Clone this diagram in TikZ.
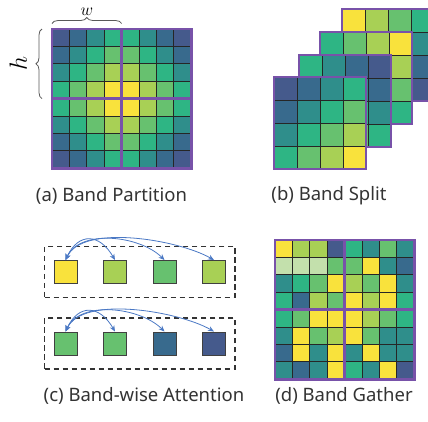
\documentclass[tikz,border=0pt]{standalone}
\usepackage{fontspec}
\setsansfont{Noto Sans}
\usetikzlibrary{positioning, fit, arrows.meta, decorations.pathreplacing}

% band colours
\definecolor{c0}{HTML}{455A8C}
\definecolor{c1}{HTML}{386A8D}
\definecolor{c2}{HTML}{2F8E8B}
\definecolor{c3}{HTML}{2EB584}
\definecolor{c4}{HTML}{67C16F}
\definecolor{c5}{HTML}{A8D055}
\definecolor{c6}{HTML}{F9E23C}
\definecolor{cL}{HTML}{C3E0AC}
\definecolor{bandpurple}{HTML}{7852A9}
\definecolor{arrowblue}{HTML}{4A78C4}

\tikzset{
	cell/.style={draw=black!85, line width=0.7pt},
	border/.style={draw=bandpurple, line width=2.6pt},
	token/.style={draw=black!75, line width=0.9pt, minimum size=23pt, inner sep=0pt},
	group/.style={draw=black!80, dashed, dash pattern=on 5.5pt off 3.5pt, line width=1.3pt, inner xsep=9pt, inner ysep=13.5pt},
	attn/.style={{Stealth[length=6pt,width=5pt]}-{Stealth[length=6pt,width=5pt]}, draw=arrowblue, line width=0.8pt},
	bracket/.style={draw=black!65, line width=0.8pt, decorate, decoration={brace, amplitude=6pt}},
	caption/.style={font=\sffamily\fontsize{18.5}{22}\selectfont, text=black!80}
}

\begin{document}
\begin{tikzpicture}[x=1pt, y=-1pt]
	\useasboundingbox (0,0) rectangle (428,421);
	
	% (a) partition of the full map
	\foreach \i in {0,...,7}{
		\foreach \j in {0,...,7}{
			\pgfmathtruncatemacro{\v}{min(\i,7-\i)+min(\j,7-\j)}
			\draw[cell, fill=c\v] (52+17.4*\j,29+17.4*\i) rectangle ++(17.4,17.4);
		}
	}
	\draw[border] (52,29) rectangle (191.2,168.2);
	\draw[border] (121.6,29) -- (121.6,168.2);
	\draw[border] (52,98.6) -- (191.2,98.6);
	\draw[bracket] (52,23.5) -- (121.6,23.5);
	\draw[bracket] (42,98.6) -- (42,29);
	\node[anchor=base, inner sep=0pt] (wlabel) at (86.8,15) {\fontsize{18}{18}\selectfont $w$};
	\node[rotate=90, anchor=base, inner sep=0pt] (hlabel) at (27,63.8) {\fontsize{24}{24}\selectfont $h$};
	
	% (b) the four bands, back to front
	\foreach \ox/\oy/\rows in {
		342/9/{{6,5,4,3},{5,4,3,2},{4,3,2,1},{3,2,1,0}},
		320/32/{{3,4,5,6},{2,3,4,5},{1,2,3,4},{0,1,2,3}},
		299/55/{{3,2,1,0},{4,3,2,1},{5,4,3,2},{6,5,4,3}},
		274/77/{{0,1,2,3},{1,2,3,4},{2,3,4,5},{3,4,5,6}}}{
		\foreach \row [count=\i from 0] in \rows{
			\foreach \v [count=\j from 0] in \row{
				\draw[cell, fill=c\v] (\ox+23*\j,\oy+23*\i) rectangle ++(23,23);
			}
		}
		\draw[border] (\ox,\oy) rectangle ++(92,92);
	}
	
	% (c) attention inside each band
	\foreach \n/\v [count=\k from 0] in {t1/6,t2/5,t3/4,t4/5}
		\node[token, fill=c\v] (\n) at (65.5+49.5*\k,272) {};
	\foreach \n/\v [count=\k from 0] in {b1/4,b2/4,b3/1,b4/0}
		\node[token, fill=c\v] (\n) at (65.5+49.5*\k,343.5) {};
	\node[group, fit=(t1)(t4)] (topgroup) {};
	\node[group, fit=(b1)(b4)] (botgroup) {};
	
	\draw[attn] (t1.north) to[out=65, in=120, looseness=1.6] (t2.north);
	\draw[attn] (t1.north) to[out=65, in=135, looseness=0.9] (t3.north);
	\draw[attn] (t1.north) to[out=65, in=150, looseness=0.7] (t4.north);
	\draw[attn] (b1.north) to[out=65, in=120, looseness=1.6] (b2.north);
	\draw[attn] (b1.north) to[out=65, in=135, looseness=0.9] (b3.north);
	\draw[attn] (b1.north) to[out=65, in=150, looseness=0.7] (b4.north);
	
	% (d) gathered map
	\foreach \row [count=\i from 0] in {
		{6,5,5,0,3,2,4,2},
		{L,L,L,4,4,6,2,1},
		{2,3,4,6,5,4,6,2},
		{3,1,5,4,6,5,6,3},
		{3,4,6,6,6,5,4,3},
		{2,6,4,5,6,4,2,2},
		{1,6,2,6,2,6,2,2},
		{2,1,2,6,3,2,6,0}}{
		\foreach \v [count=\j from 0] in \row{
			\draw[cell, fill=c\v] (275+17.4*\j,240+17.4*\i) rectangle ++(17.4,17.4);
		}
	}
	\draw[border] (275,240) rectangle (414.2,379.2);
	\draw[border] (344.6,240) -- (344.6,379.2);
	\draw[border] (275,309.6) -- (414.2,309.6);
	
	% captions
	\node[caption] (capa) at (111.5,196) {(a) Band Partition};
	\node[caption] (capb) at (329,196) {(b) Band Split};
	\node[caption] (capc) at (144,396) {(c) Band-wise Attention};
	\node[caption] (capd) at (344,396) {(d) Band Gather};
\end{tikzpicture}
\end{document}
